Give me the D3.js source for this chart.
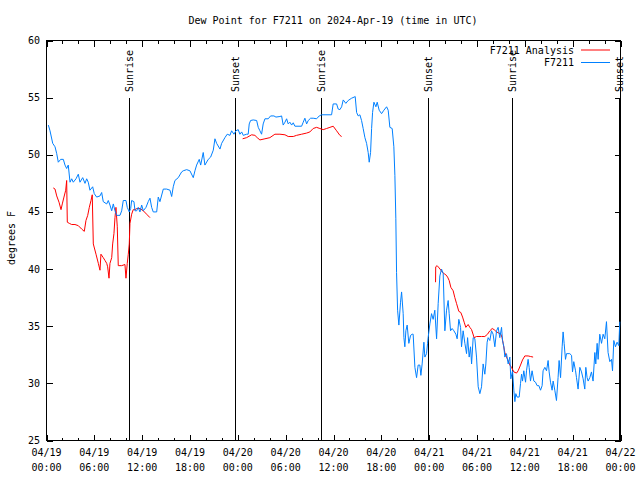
<!DOCTYPE html>
<html>
<head>
<meta charset="utf-8">
<script src="https://cdn.jsdelivr.net/npm/d3@7"></script>
<style>
body { margin: 0; background: #fff; }
text { font-family: "DejaVu Sans Mono", monospace; font-size: 10px; fill: #000; }
</style>
</head>
<body>
<div id="chart"></div>
<script>
// hours since 2024-04-19 00:00 UTC
var stationHours = [0.23,0.44,0.78,1.07,1.28,1.48,1.78,2.11,2.32,2.53,2.73,2.95,3.16,3.36,3.70,3.99,4.20,4.54,4.83,5.04,5.24,5.45,5.79,5.99,6.29,6.71,6.92,7.12,7.55,7.75,7.96,8.18,8.38,8.59,8.80,9.22,9.43,9.63,9.97,10.13,10.38,10.56,10.68,10.97,11.10,11.31,11.51,11.72,11.94,12.14,12.48,12.76,12.98,13.19,13.39,13.82,14.02,14.23,14.65,15.07,15.49,15.70,15.90,16.11,16.53,16.95,17.15,17.58,17.99,18.41,18.62,18.83,19.16,19.34,19.66,19.87,20.29,20.59,20.92,21.13,21.34,21.76,21.97,22.38,22.67,23.01,23.22,23.51,23.76,24.05,24.26,24.48,24.68,25.10,25.30,25.43,25.60,25.93,26.36,26.56,26.77,26.98,27.18,27.40,27.81,28.11,28.53,28.78,29.28,29.49,29.69,29.91,30.12,30.32,30.53,30.75,30.95,31.16,32.00,32.20,32.41,32.63,32.83,33.13,33.45,33.88,34.21,34.51,35.76,35.96,36.39,36.59,36.80,37.02,37.22,37.55,37.84,38.27,38.60,38.72,38.90,39.10,39.31,39.52,39.72,39.94,40.15,40.35,40.48,40.65,40.78,40.90,41.07,41.32,41.48,41.73,42.03,42.32,42.66,42.86,43.07,43.36,43.57,43.70,43.82,43.91,44.04,44.20,44.41,44.54,44.74,44.83,44.95,45.08,45.24,45.45,45.67,45.87,45.99,46.21,46.42,46.62,46.83,46.96,47.12,47.34,47.46,47.67,47.80,47.87,48.09,48.30,48.50,48.71,48.93,49.13,49.34,49.55,49.76,49.97,50.18,50.38,50.51,50.68,50.88,51.10,51.35,51.51,51.72,51.94,52.06,52.26,52.48,52.69,52.82,53.02,53.19,53.32,53.52,53.73,53.94,54.15,54.36,54.57,54.77,54.98,55.11,55.27,55.40,55.61,55.82,56.02,56.24,56.45,56.65,56.86,57.08,57.20,57.37,57.49,57.70,57.91,58.12,58.24,58.46,58.62,58.75,58.87,59.03,59.29,59.46,59.59,59.71,59.87,60.09,60.21,60.41,60.54,60.71,60.91,61.13,61.34,61.54,61.76,61.97,62.17,62.29,62.51,62.72,62.92,63.05,63.22,63.42,63.55,63.76,63.97,64.17,64.30,64.48,64.68,64.80,64.93,65.10,65.23,65.64,65.86,65.98,66.14,66.36,66.48,66.68,66.90,67.11,67.31,67.52,67.65,67.81,67.94,68.15,68.36,68.56,68.78,68.90,69.07,69.19,69.40,69.62,69.82,70.03,70.24,70.44,70.66,70.87,71.00,71.16,71.37,71.57,71.79,71.91];
var stationDew = [52.6,52.1,51.0,50.7,50.1,49.35,49.6,49.6,49.1,48.8,49.1,47.6,47.9,47.6,47.9,48.3,47.6,48.0,47.5,47.9,47.6,46.9,47.2,46.6,46.3,46.4,46.7,45.9,45.7,46.0,45.6,45.1,45.7,45.1,44.7,44.7,45.1,46.0,46.0,45.4,45.0,45.3,46.0,45.9,45.1,45.1,45.4,45.0,45.6,45.1,45.4,45.9,46.2,45.4,45.0,45.0,46.3,45.9,47.0,47.0,46.9,46.35,47.2,47.75,48.0,48.5,48.6,48.7,48.6,48.0,48.6,49.1,49.6,49.1,50.2,49.1,49.6,49.8,50.4,51.4,51.0,50.5,51.0,51.5,51.8,51.7,52.1,51.8,52.1,52.2,51.8,52.0,51.7,51.8,51.8,52.7,53.0,53.05,53.0,52.4,52.1,51.8,52.7,53.15,53.15,53.4,53.4,53.3,53.35,53.4,52.6,52.85,53.15,52.7,52.85,52.6,52.8,52.5,52.5,52.85,53.2,52.7,53.0,53.2,53.2,53.15,53.4,53.5,53.5,54.45,54.45,54.0,53.95,54.2,54.8,54.5,54.75,54.95,55.05,55.1,53.7,53.4,53.5,53.0,52.3,51.5,51.0,50.2,49.35,50.2,52.3,53.7,54.6,54.2,54.6,53.9,53.6,53.9,54.2,53.9,52.4,52.3,50.7,48.2,44.4,39.7,36.4,35.1,37.1,38.0,36.1,34.0,33.2,34.6,35.1,33.5,34.2,34.3,34.3,31.4,30.5,31.6,31.6,30.7,31.7,33.6,32.3,32.6,33.5,34.0,35.2,36.1,35.6,36.4,33.9,37.0,39.4,40.0,39.6,34.6,36.4,37.25,36.1,34.6,34.8,34.6,34.3,33.9,35.6,34.9,33.2,34.6,33.5,32.6,34.0,32.3,33.2,31.7,34.0,33.9,32.3,29.7,29.1,29.7,31.7,30.8,31.7,33.6,34.0,33.75,34.6,34.3,33.2,34.6,34.9,34.0,34.9,33.75,33.2,32.3,32.6,31.7,32.3,30.4,31.1,29.4,28.4,29.1,28.8,28.8,30.0,30.8,30.2,31.1,30.1,31.1,32.1,31.4,30.2,31.1,30.2,30.1,29.8,29.8,29.4,29.8,31.1,31.4,31.1,32.0,31.0,30.1,29.4,30.2,29.4,28.5,30.5,32.0,30.5,33.2,34.5,33.5,32.1,32.6,32.6,32.45,31.0,31.9,31.1,30.5,29.5,31.4,31.0,30.4,29.5,31.4,30.5,30.2,30.5,31.0,30.2,32.7,31.7,33.5,32.1,34.3,33.5,34.3,33.9,35.4,32.7,31.9,32.1,31.1,33.75,33.2,33.6,33.3,35.4];

// analysis runs, null = gap between runs
var analysisHours = [0.85,1.07,1.28,1.57,1.82,1.98,2.19,2.41,2.53,2.61,2.86,3.16,3.57,3.99,4.41,4.74,4.95,5.17,5.37,5.58,5.74,5.87,6.21,6.50,6.71,6.83,7.12,7.34,7.55,7.67,7.84,7.96,8.18,8.30,8.46,8.59,8.71,8.88,9.00,9.43,9.84,9.97,10.13,10.26,10.38,10.47,10.68,10.88,11.10,11.31,11.72,12.14,12.56,12.98,
  18.0,
  24.60,25.10,25.73,26.14,26.43,26.77,27.40,28.02,28.65,29.28,29.91,30.32,30.95,31.37,32.00,32.63,33.04,33.45,33.88,34.29,34.71,35.13,35.55,35.96,36.39,36.80,37.02,
  42.0,
  48.80,48.82,49.00,49.25,49.47,49.68,49.88,50.09,50.31,50.51,50.72,51.01,51.22,51.43,51.72,51.97,52.19,52.39,52.60,52.89,53.10,53.32,53.64,53.94,54.57,54.98,55.32,55.61,55.90,56.15,56.45,56.74,56.99,57.15,57.28,57.49,57.70,57.91,58.12,58.33,58.62,58.96,59.16,59.46,59.71,60.00,60.41,60.71,61.04];
var analysisDew = [47.1,47.0,46.4,45.85,45.2,45.7,46.3,46.9,47.75,44.1,44.0,43.9,43.9,43.8,43.5,43.3,44.25,44.7,45.4,46.0,46.5,42.2,41.3,40.5,39.9,41.3,41.0,40.75,40.5,40.2,39.2,40.5,41.0,42.2,43.1,44.5,45.4,43.7,40.3,40.3,40.4,39.2,40.5,41.3,42.2,44.0,44.8,45.2,45.2,45.3,45.3,45.1,44.8,44.5,
  null,
  51.4,51.5,51.75,51.7,51.5,51.3,51.4,51.5,51.8,51.8,51.75,51.6,51.6,51.7,51.8,51.9,52.0,52.3,52.4,52.3,52.2,52.3,52.4,52.5,52.1,51.7,51.6,
  null,
  38.85,40.2,40.3,40.1,39.9,39.7,39.6,39.5,39.3,39.0,38.4,38.1,37.5,37.0,36.3,36.2,35.8,35.35,34.9,35.15,34.9,34.7,34.0,34.1,34.1,34.1,34.3,34.6,34.8,34.7,34.5,34.4,34.3,34.0,33.5,32.7,32.3,32.0,31.6,31.4,31.0,30.9,31.1,31.6,32.05,32.4,32.4,32.35,32.3];

var sunHours = [10.38, 23.64, 34.46, 47.80, 58.41, 71.82];
var sunNames = ["Sunrise", "Sunset", "Sunrise", "Sunset", "Sunrise", "Sunset"];

var yTicks = [25, 30, 35, 40, 45, 50, 55, 60];

var svgWidth = 640;
var svgHeight = 480;
var margin = { top: 40.5, left: 46.5, right: 19.5, bottom: 39.5 };

var start = Date.UTC(2024, 3, 19);
var end = Date.UTC(2024, 3, 22);
function toDate(h) { return new Date(start + h * 3600000); }

var svg = d3.select("#chart")
    .append("svg")
    .attr("width", svgWidth)
    .attr("height", svgHeight);

svg.append("rect").attr("width", svgWidth).attr("height", svgHeight).attr("fill", "#fff");

var x = d3.scaleUtc()
    .domain([new Date(start), new Date(end)])
    .range([margin.left, svgWidth - margin.right]);

var y = d3.scaleLinear()
    .domain([25, 60])
    .range([svgHeight - margin.bottom, margin.top]);

var majorTicks = d3.utcHour.every(6).range(new Date(start), new Date(end + 1));
var minorTicks = d3.utcHour.every(2).range(new Date(start), new Date(end + 1));

var axisStyle = function(g) {
    g.select(".domain").remove();
    g.selectAll("line").attr("stroke", "#000").attr("shape-rendering", "crispEdges");
    g.selectAll("text").remove();
};

// inward ticks on all four sides
svg.append("g").attr("transform", `translate(0, ${y(25)})`)
    .call(d3.axisBottom(x).tickValues(minorTicks).tickSize(-3)).call(axisStyle);
svg.append("g").attr("transform", `translate(0, ${y(25)})`)
    .call(d3.axisBottom(x).tickValues(majorTicks).tickSize(-6)).call(axisStyle);
svg.append("g").attr("transform", `translate(0, ${y(60)})`)
    .call(d3.axisTop(x).tickValues(minorTicks).tickSize(-3)).call(axisStyle);
svg.append("g").attr("transform", `translate(0, ${y(60)})`)
    .call(d3.axisTop(x).tickValues(majorTicks).tickSize(-6)).call(axisStyle);
svg.append("g").attr("transform", `translate(${x.range()[0]}, 0)`)
    .call(d3.axisLeft(y).tickValues(yTicks).tickSize(-6)).call(axisStyle);
svg.append("g").attr("transform", `translate(${x.range()[1]}, 0)`)
    .call(d3.axisRight(y).tickValues(yTicks).tickSize(-6)).call(axisStyle);

// frame
svg.append("rect")
    .attr("x", x.range()[0]).attr("y", y(60))
    .attr("width", x.range()[1] - x.range()[0])
    .attr("height", y(25) - y(60))
    .attr("fill", "none").attr("stroke", "#000")
    .attr("shape-rendering", "crispEdges");

// tick labels
var fmtDay = d3.utcFormat("%m/%d");
var fmtTime = d3.utcFormat("%H:%M");
svg.selectAll(".xday").data(majorTicks).enter().append("text")
    .attr("x", d => x(d)).attr("y", 456)
    .attr("text-anchor", "middle").text(d => fmtDay(d));
svg.selectAll(".xtime").data(majorTicks).enter().append("text")
    .attr("x", d => x(d)).attr("y", 471)
    .attr("text-anchor", "middle").text(d => fmtTime(d));
svg.selectAll(".ylab").data(yTicks).enter().append("text")
    .attr("x", 40).attr("y", d => y(d)).attr("dy", "0.35em")
    .attr("text-anchor", "end").text(d => d);

svg.append("text")
    .attr("x", 333).attr("y", 23.5)
    .attr("text-anchor", "middle")
    .text("Dew Point for F7211 on 2024-Apr-19 (time in UTC)");

svg.append("text")
    .attr("transform", "translate(11, 238) rotate(-90)")
    .attr("dy", "0.35em")
    .attr("text-anchor", "middle")
    .text("degrees F");

// sunrise / sunset markers
var sun = svg.selectAll(".sun").data(sunHours).enter().append("g");
sun.append("line")
    .attr("x1", d => Math.round(x(toDate(d))) + 0.5)
    .attr("x2", d => Math.round(x(toDate(d))) + 0.5)
    .attr("y1", 98).attr("y2", y(25))
    .attr("stroke", "#000").attr("shape-rendering", "crispEdges");
sun.append("text")
    .attr("transform", d => `translate(${Math.round(x(toDate(d))) + 0.5}, 92) rotate(-90)`)
    .attr("dy", "0.35em")
    .text((d, i) => sunNames[i]);

// series
var stationData = stationHours.map((h, i) => [toDate(h), stationDew[i]]);
var analysisData = analysisHours.map((h, i) => [toDate(h), analysisDew[i]]);

var line = d3.line()
    .defined(d => d[1] != null)
    .x(d => x(d[0]))
    .y(d => y(d[1]));

svg.append("path").datum(analysisData)
    .attr("d", line).attr("fill", "none")
    .attr("stroke", "#ff0000").attr("stroke-width", 1);

svg.append("path").datum(stationData)
    .attr("d", line).attr("fill", "none")
    .attr("stroke", "#0080ff").attr("stroke-width", 1);

// legend
var legendNames = ["F7211 Analysis", "F7211"];
var legendColors = ["#ff0000", "#0080ff"];
var legend = svg.selectAll(".legend").data(legendNames).enter().append("g")
    .attr("transform", (d, i) => `translate(0, ${50 + i * 12.5})`);
legend.append("text")
    .attr("x", 574).attr("dy", "0.35em")
    .attr("text-anchor", "end").text(d => d);
legend.append("line")
    .attr("x1", 581).attr("x2", 610)
    .attr("stroke", (d, i) => legendColors[i]);
</script>
</body>
</html>
